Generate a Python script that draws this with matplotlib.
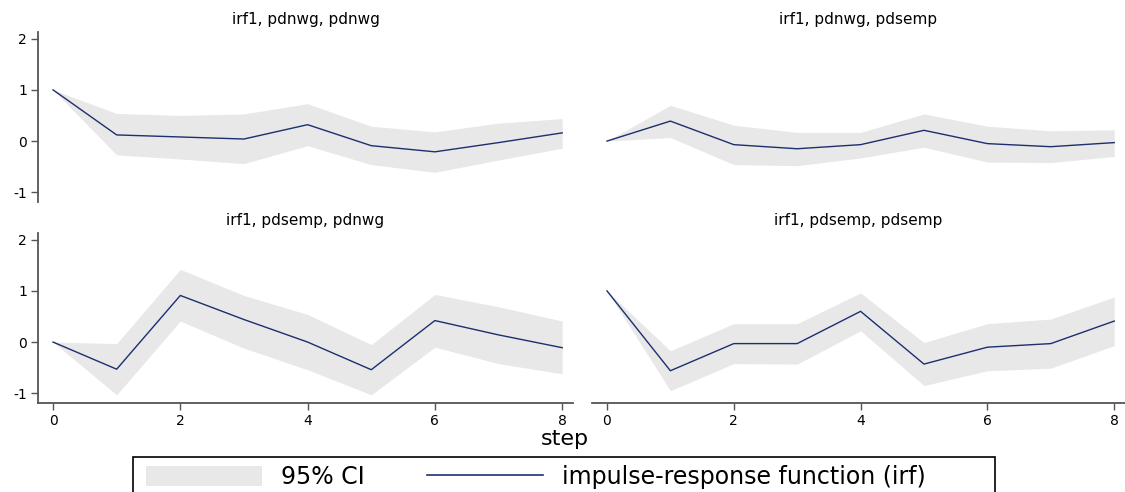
import matplotlib
matplotlib.use("Agg")
import matplotlib.pyplot as plt
from matplotlib.patches import Patch, Rectangle
from matplotlib.lines import Line2D

plt.rcParams['font.family'] = ['DejaVu Sans']
plt.rcParams['axes.unicode_minus'] = False

steps = [0, 1, 2, 3, 4, 5, 6, 7, 8]
xticks = [0, 2, 4, 6, 8]
yticks = [-1, 0, 1, 2]

titles = [
    "irf1, pdnwg, pdnwg",
    "irf1, pdnwg, pdsemp",
    "irf1, pdsemp, pdnwg",
    "irf1, pdsemp, pdsemp",
]

# impulse-response values and 95% CI bounds
irf_nwg_nwg = [1.0, 0.12, 0.08, 0.04, 0.32, -0.09, -0.21, -0.03, 0.16]
hi_nwg_nwg = [1.0, 0.54, 0.50, 0.53, 0.73, 0.29, 0.18, 0.35, 0.44]
lo_nwg_nwg = [1.0, -0.27, -0.35, -0.44, -0.09, -0.46, -0.61, -0.37, -0.14]

irf_nwg_semp = [0.0, 0.39, -0.07, -0.15, -0.07, 0.21, -0.05, -0.11, -0.03]
hi_nwg_semp = [0.0, 0.70, 0.31, 0.17, 0.17, 0.53, 0.29, 0.20, 0.22]
lo_nwg_semp = [0.0, 0.07, -0.46, -0.48, -0.33, -0.12, -0.41, -0.42, -0.30]

irf_semp_nwg = [0.0, -0.53, 0.91, 0.44, 0.0, -0.54, 0.42, 0.14, -0.11]
hi_semp_nwg = [0.0, -0.03, 1.42, 0.91, 0.54, -0.05, 0.93, 0.69, 0.41]
lo_semp_nwg = [0.0, -1.03, 0.41, -0.12, -0.54, -1.03, -0.10, -0.42, -0.62]

irf_semp_semp = [1.0, -0.56, -0.03, -0.03, 0.60, -0.43, -0.10, -0.03, 0.41]
hi_semp_semp = [1.0, -0.17, 0.36, 0.36, 0.96, -0.01, 0.36, 0.45, 0.88]
lo_semp_semp = [1.0, -0.95, -0.42, -0.43, 0.22, -0.85, -0.56, -0.51, -0.07]

panels = [
    (irf_nwg_nwg, lo_nwg_nwg, hi_nwg_nwg),
    (irf_nwg_semp, lo_nwg_semp, hi_nwg_semp),
    (irf_semp_nwg, lo_semp_nwg, hi_semp_nwg),
    (irf_semp_semp, lo_semp_semp, hi_semp_semp),
]

CI_COLOR = "#e8e8e8"
LINE_COLOR = "#1c2f6e"
AXIS_COLOR = "#555555"

W, H = 1125, 492
fig = plt.figure(figsize=(W / 100, H / 100), dpi=100)


def px_axes(left, top, right, bottom):
    return fig.add_axes([left / W, 1 - bottom / H, (right - left) / W, (bottom - top) / H])


# pixel boxes: left, top, right, bottom
boxes = [
    (38, 32, 573, 202),
    (592, 32, 1125, 202),
    (38, 233, 573, 403),
    (592, 233, 1125, 403),
]

for i, (box, (irf, lo, hi), title) in enumerate(zip(boxes, panels, titles)):
    ax = px_axes(*box)
    ax.fill_between(steps, lo, hi, color=CI_COLOR, linewidth=0)
    ax.plot(steps, irf, color=LINE_COLOR, linewidth=1.0)
    ax.set_xlim(-0.236, 8.17)
    ax.set_ylim(-1.19, 2.13)
    ax.set_facecolor("none")
    for s in ax.spines.values():
        s.set_visible(False)
        s.set_color(AXIS_COLOR)
        s.set_linewidth(1.3)
    left_col = i % 2 == 0
    bottom_row = i >= 2
    ax.spines["left"].set_visible(left_col)
    ax.spines["bottom"].set_visible(bottom_row)
    ax.tick_params(direction="out", length=5, width=1, color=AXIS_COLOR,
                   labelsize=10, labelcolor="black", pad=3)
    if left_col:
        ax.set_yticks(yticks)
    else:
        ax.set_yticks([])
    if bottom_row:
        ax.set_xticks(xticks)
    else:
        ax.set_xticks([])
    ax.set_title(title, fontsize=11, pad=6)

fig.text(565 / W, 1 - 439 / H, "step", ha="center", va="center", fontsize=16)

# legend box (runs off the bottom edge like the original)
fig.patches.append(Rectangle((133 / W, -0.02), (995 - 133) / W, 1 - 457 / H + 0.02,
                             transform=fig.transFigure, facecolor="white",
                             edgecolor="black", linewidth=1.2, zorder=0))

handles = [
    Patch(facecolor=CI_COLOR, edgecolor="none"),
    Line2D([0], [0], color=LINE_COLOR, linewidth=1.2),
]
leg = fig.legend(handles, ["95% CI", "impulse-response function (irf)"],
                 loc="upper left", bbox_to_anchor=(139 / W, 1 - 458 / H),
                 ncol=2, fontsize=17, frameon=False,
                 handlelength=4.9, handleheight=0.9, handletextpad=0.8,
                 columnspacing=2.65, borderpad=0.3, borderaxespad=0)

fig.savefig("out.png", dpi=100)
